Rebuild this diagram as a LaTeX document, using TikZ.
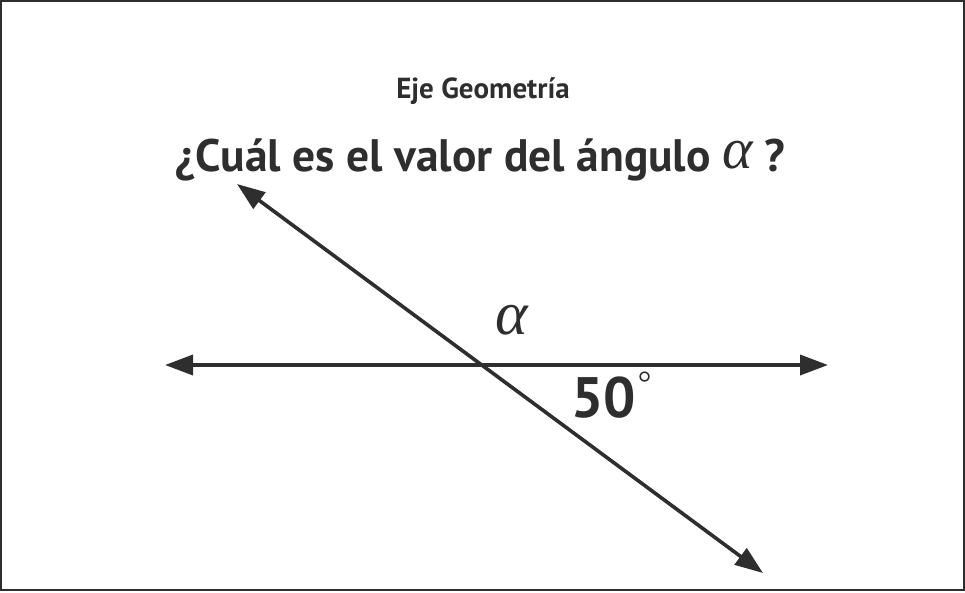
\documentclass[tikz,border=0pt]{standalone}
\usepackage{fontspec}
\setmainfont{PT Sans}
\newfontfamily\grkfont{Liberation Serif}
\usetikzlibrary{arrows.meta}
\definecolor{ink}{HTML}{2E2E2E}
\begin{document}
\begin{tikzpicture}[x=1pt,y=-1pt,
  every node/.style={text=ink, inner sep=0pt},
  geoline/.style={draw=ink, line width=3.6pt, {Triangle[length=28pt,width=20pt]}-{Triangle[length=28pt,width=20pt]}}]
\useasboundingbox (0,0) rectangle (965,592);
\draw[ink, line width=2pt] (1,1) rectangle (964,590);
\coordinate (hL) at (165,365);
\coordinate (hR) at (828,365);
\coordinate (dA) at (237,184);
\coordinate (dB) at (763,573);
\draw[geoline] (hL) -- (hR);
\draw[geoline] (dA) -- (dB);
\node[font=\bfseries\fontsize{29}{33}\selectfont, anchor=base] (subj) at (483,98) {Eje Geometría};
\node[font=\bfseries\fontsize{45.5}{50}\selectfont, anchor=base] (q) at (480,171) {¿Cuál es el valor del ángulo \raisebox{3pt}{\grkfont\itshape\mdseries\fontsize{58}{58}\selectfont α} ?};
\node[anchor=base, font=\grkfont\itshape\fontsize{62}{62}\selectfont] (alpha) at (512,334) {α};
\node[anchor=base west, font=\bfseries\fontsize{57}{60}\selectfont] (ang) at (571,417) {50\kern2pt\raisebox{23pt}{\grkfont\mdseries\fontsize{34}{34}\selectfont °}};
\end{tikzpicture}
\end{document}
